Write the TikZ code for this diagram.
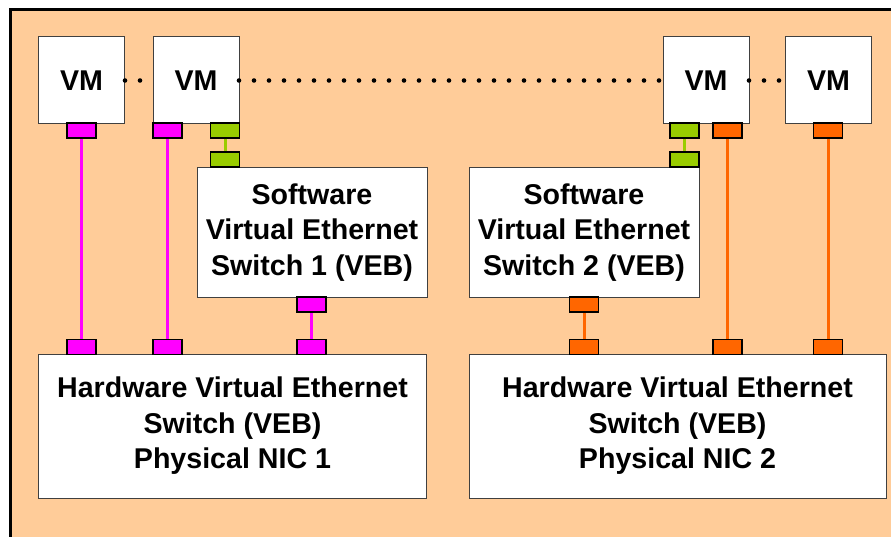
\documentclass[tikz,border=0pt]{standalone}
\usepackage{fontspec}
\setmainfont{Liberation Sans}
\definecolor{peach}{HTML}{FFCC99}
\definecolor{portmag}{HTML}{FF00FF}
\definecolor{portgreen}{HTML}{99CC00}
\definecolor{portorange}{HTML}{FF6600}
\definecolor{boxline}{HTML}{404040}
\tikzset{
  unitbox/.style={draw=boxline, line width=1pt, fill=white, inner sep=0pt, align=center,
    font=\fontsize{28.6}{35.5}\selectfont\bfseries},
  vmbox/.style={unitbox, minimum width=86pt, minimum height=87pt},
  swbox/.style={unitbox, minimum width=230pt, minimum height=129pt},
  port/.style={draw=black, line width=1.6pt, inner sep=0pt, minimum width=29pt, minimum height=15pt},
  magport/.style={port, fill=portmag},
  greenport/.style={port, fill=portgreen},
  orangeport/.style={port, fill=portorange},
  magline/.style={draw=portmag, line width=3pt},
  greenline/.style={draw=portgreen, line width=3pt},
  orangeline/.style={draw=portorange, line width=3pt},
  dotmark/.style={fill=black, draw=none},
}
\begin{document}
\begin{tikzpicture}[x=1pt, y=-1pt]
\useasboundingbox (0,0) rectangle (891,537);
\clip (0,0) rectangle (891,537);
% host enclosure
\draw[fill=peach, line width=3pt] (10.5,10) rectangle (900,545);

% virtual machines
\node[vmbox] (vm1) at (81.5,80.5) {VM};
\node[vmbox] (vm2) at (196,80.5) {VM};
\node[vmbox] (vm3) at (706,80.5) {VM};
\node[vmbox] (vm4) at (828.5,80.5) {VM};

% software switches
\node[swbox] (sw1) at (312,232.5) {Software\\Virtual Ethernet\\Switch 1 (VEB)};
\node[swbox] (sw2) at (584,232.5) {Software\\Virtual Ethernet\\Switch 2 (VEB)};

% hardware switches
\node[unitbox, minimum width=388pt, minimum height=144pt] (hw1) at (232.5,426)
  {Hardware Virtual Ethernet\\Switch (VEB)\\Physical NIC 1};
\node[unitbox, minimum width=417pt, minimum height=144pt] (hw2) at (677.5,426)
  {Hardware Virtual Ethernet\\Switch (VEB)\\Physical NIC 2};

% dotted continuation between the virtual machines
\foreach \x in {125,140} \fill[dotmark] (\x,80.5) circle (2.3pt);
\foreach \x in {239,254,...,663} \fill[dotmark] (\x,80.5) circle (2.3pt);
\foreach \x in {749,764,779} \fill[dotmark] (\x,80.5) circle (2.3pt);

% ports
\node[magport] (pv1) at (81.5,130.5) {};
\node[magport] (pv2) at (167.5,130.5) {};
\node[greenport] (gv2) at (225,130.5) {};
\node[greenport] (gs1) at (225,159.5) {};
\node[magport] (ms1) at (311.5,304.5) {};
\node[magport] (mh1) at (81.5,347) {};
\node[magport] (mh2) at (167.5,347) {};
\node[magport] (mh3) at (311.5,347) {};

\node[greenport] (gv3) at (684.5,130.5) {};
\node[greenport] (gs2) at (684.5,159.5) {};
\node[orangeport] (ov3) at (727.5,130.5) {};
\node[orangeport] (ov4) at (828,130.5) {};
\node[orangeport] (os2) at (584,304.5) {};
\node[orangeport] (oh1) at (584,347) {};
\node[orangeport] (oh2) at (727.5,347) {};
\node[orangeport] (oh3) at (828,347) {};

% links
\draw[magline] (pv1.south) -- (mh1.north);
\draw[magline] (pv2.south) -- (mh2.north);
\draw[magline] (ms1.south) -- (mh3.north);
\draw[greenline] (gv2.south) -- (gs1.north);
\draw[greenline] (gv3.south) -- (gs2.north);
\draw[orangeline] (os2.south) -- (oh1.north);
\draw[orangeline] (ov3.south) -- (oh2.north);
\draw[orangeline] (ov4.south) -- (oh3.north);
\end{tikzpicture}
\end{document}
